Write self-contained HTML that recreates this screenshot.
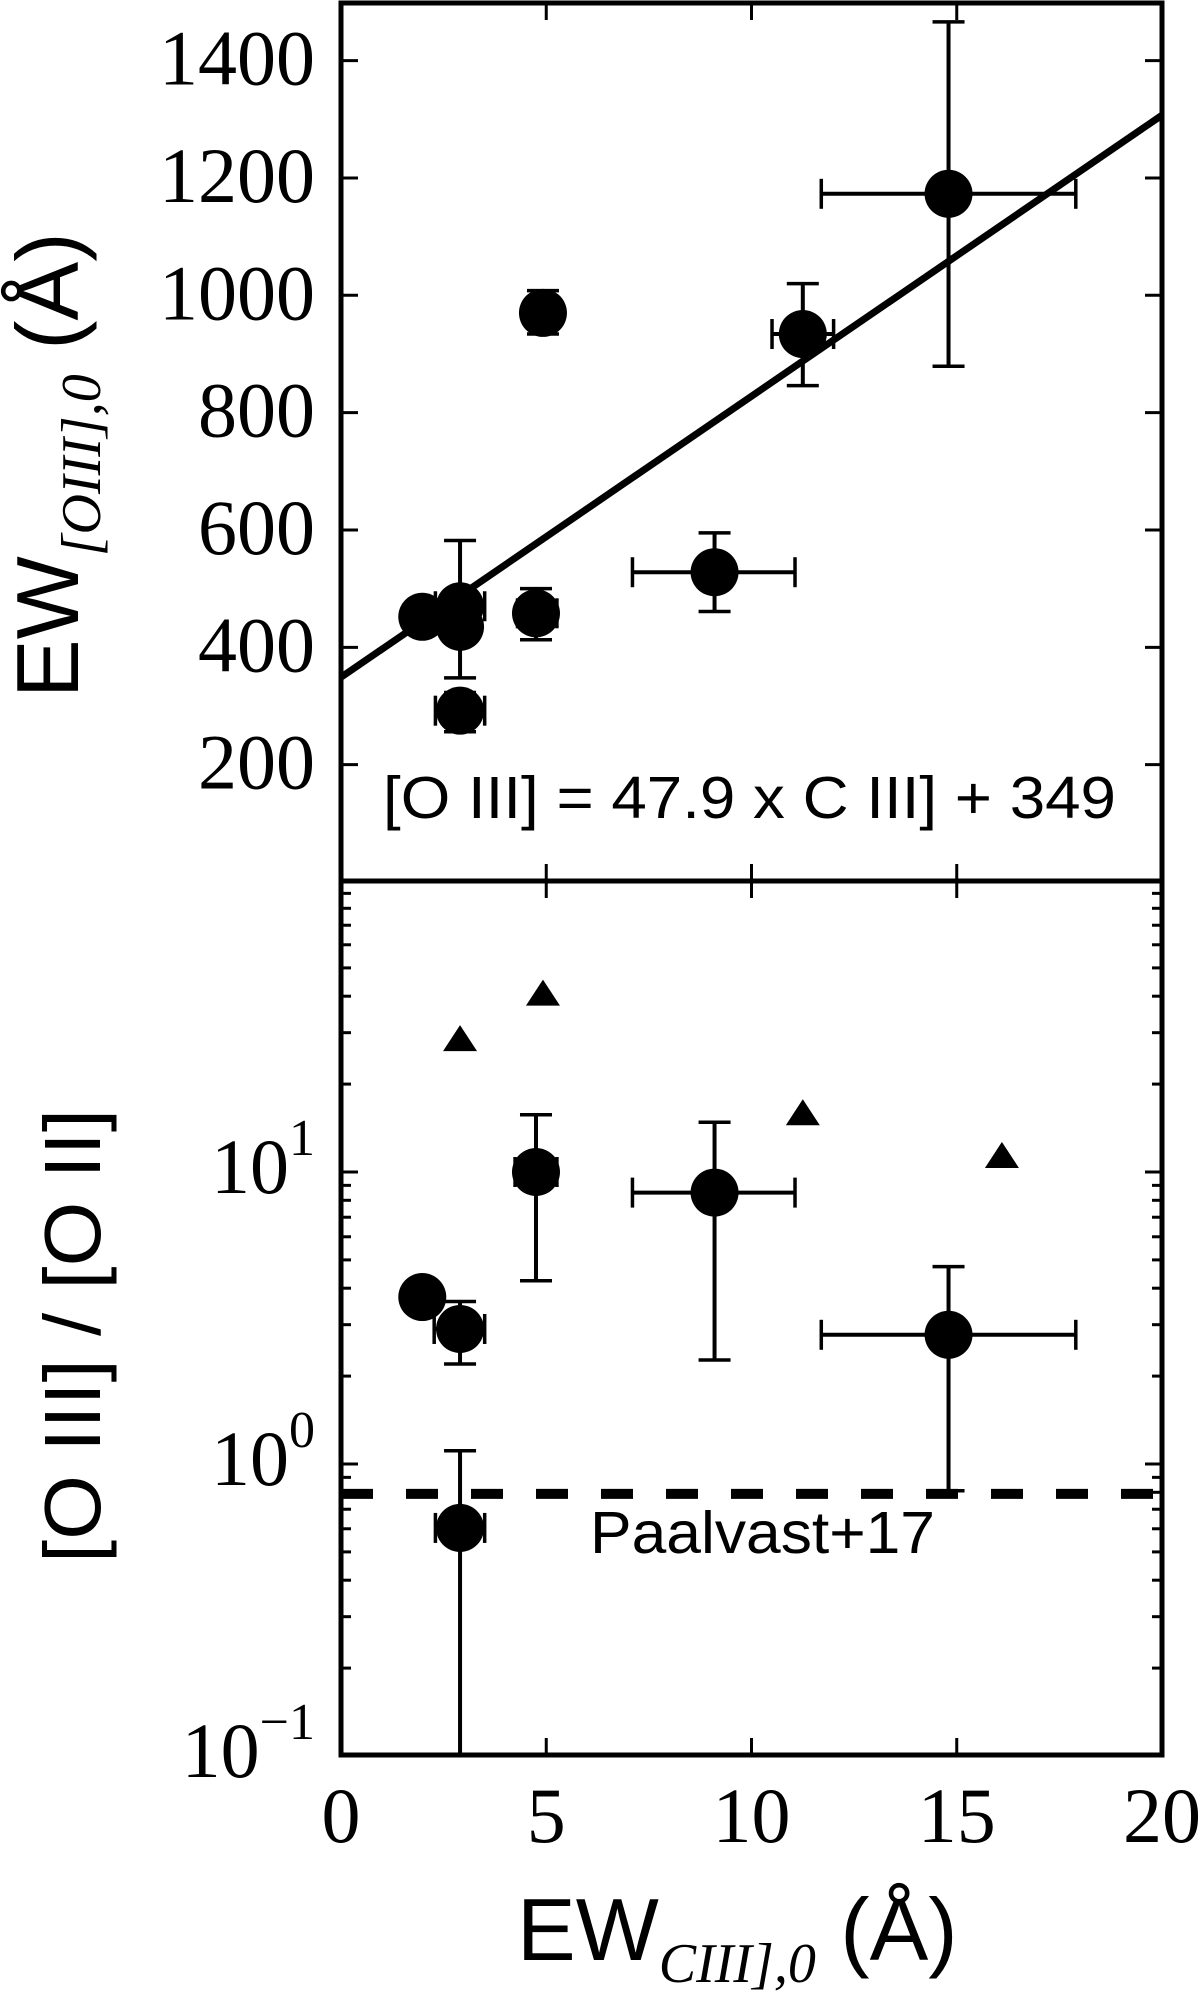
<!DOCTYPE html>
<html><head><meta charset="utf-8"><style>
html,body{margin:0;padding:0;background:#fff}
svg{display:block}
.tk{font-family:"Liberation Serif",serif;font-size:78px;fill:#000}
.sans{font-family:"Liberation Sans",sans-serif;fill:#000}
</style></head><body>
<svg id="chart" width="1200" height="1992" viewBox="0 0 1200 1992" xmlns="http://www.w3.org/2000/svg">
<g id="top"></g>
<g id="bot"></g>
<text class="sans" x="383" y="818" font-size="59" textLength="733" lengthAdjust="spacingAndGlyphs">[O III] = 47.9 x C III] + 349</text>
<text class="sans" x="590" y="1553" font-size="59" textLength="345" lengthAdjust="spacingAndGlyphs">Paalvast+17</text>
<text class="sans" x="517" y="1960" font-size="88">EW<tspan font-family="Liberation Serif" font-style="italic" font-size="56" dy="22">CIII],0</tspan><tspan dy="-22"> (Å)</tspan></text>
<text class="sans" transform="translate(78,698) rotate(-90)" font-size="88">EW<tspan font-family="Liberation Serif" font-style="italic" font-size="56" dy="22">[OIII],0</tspan><tspan dy="-22"> (Å)</tspan></text>
<text class="sans" transform="translate(100,1563) rotate(-90)" font-size="80" textLength="454" lengthAdjust="spacingAndGlyphs">[O III] / [O II]</text>
</svg>
<script>
const ns="http://www.w3.org/2000/svg";
// ---- data ----
const xTicks=[0,5,10,15,20];
const topYTicks=[200,400,600,800,1000,1200,1400];
const topX=[1.98,2.9,2.9,2.9,4.75,4.92,9.1,11.25,14.8];
const topY=[452,470,435,292,458,970,528,934,1173];
const topXLo=[null,2.3,null,2.3,4.3,null,7.1,10.5,11.7];
const topXHi=[null,3.5,null,3.5,5.26,null,11.06,12.0,17.9];
const topYLo=[null,348,null,256,413,934,461,846,879];
const topYHi=[null,582,null,323,500,1008,595,1020,1466];
const fitSlope=47.9, fitIntercept=349;
const botX=[1.98,2.9,4.75,9.1,14.8,2.9];
const botY=[3.73,2.9,10,8.5,2.77,0.604];
const botXLo=[null,2.27,4.24,7.1,11.7,2.3];
const botXHi=[null,3.5,5.26,11.06,17.9,3.5];
const botYLo=[null,2.2,4.24,2.27,0.81,0.05];
const botYHi=[null,3.6,15.7,14.8,4.74,1.11];
const triX=[2.9,4.92,11.25,16.1];
const triY=[28.5,40.8,15.9,11.35];
const paalvast=0.79;
const decades=[-1,0,1];
// ---- axes ----
const L=341,R=1162,T=3,M=881,B=1755;
const sx=v=>L+(v-0)*(R-L)/20;
const syT=v=>882-v*0.5867;
const syB=v=>1172-(Math.log10(v)-1)*292;
function el(p,tag,a){const e=document.createElementNS(ns,tag);for(const k in a)e.setAttribute(k,a[k]);p.appendChild(e);return e;}
const gTop=document.getElementById('top'), gBot=document.getElementById('bot');
let f=el(gTop,'rect',{x:L,y:T,width:R-L,height:M-T,fill:'none',stroke:'#000','stroke-width':5});


f=el(gBot,'rect',{x:L,y:M,width:R-L,height:B-M,fill:'none',stroke:'#000','stroke-width':5});


xTicks.forEach((v,i)=>{
  const x=sx(v);
  [[T,1],[M,-1],[M,1],[B,-1]].forEach(([y,d])=>{
    const t=el(gBot,'line',{x1:x,x2:x,y1:y,y2:y+d*17,stroke:'#000','stroke-width':3});
    
    
  });
  const lb=el(gBot,'text',{x:x,y:1842,'text-anchor':'middle',class:'tk'});
  lb.textContent=v;
  
  
});
topYTicks.forEach(v=>{
  const y=syT(v);
  el(gTop,'line',{x1:L,x2:L+17,y1:y,y2:y,stroke:'#000','stroke-width':3});
  el(gTop,'line',{x1:R,x2:R-17,y1:y,y2:y,stroke:'#000','stroke-width':3});
  const lb=el(gTop,'text',{x:315,y:y+24,'text-anchor':'end',class:'tk'});
  lb.textContent=v;
  
  
});
decades.forEach(d=>{
  for(let m=1;m<10;m++){
    const v=m*Math.pow(10,d), y=syB(v);
    if(y<M||y>B)continue;
    const len=m===1?17:10;
    el(gBot,'line',{x1:L,x2:L+len,y1:y,y2:y,stroke:'#000','stroke-width':3});
    el(gBot,'line',{x1:R,x2:R-len,y1:y,y2:y,stroke:'#000','stroke-width':3});
  }
  const y=syB(Math.pow(10,d));
  const lb=el(gBot,'text',{x:315,y:y+21,class:'tk','text-anchor':'end'});
  lb.textContent='10';
  const s=el(lb,'tspan',{'font-size':52,dy:-38});
  s.textContent=d<0?'\u2212'+Math.abs(d):String(d);
  
  
});
const fl=el(gTop,'line',{x1:sx(0),y1:syT(fitIntercept),x2:sx(20),y2:syT(fitSlope*20+fitIntercept),stroke:'#000','stroke-width':7});


const pl=el(gBot,'line',{x1:L,x2:R,y1:syB(paalvast),y2:syB(paalvast),stroke:'#000','stroke-width':10,'stroke-dasharray':'32 33'});


function errbars(g,X,Y,xl,xh,yl,yh,sy){
  X.forEach((xv,i)=>{
    const cx=sx(xv),cy=sy(Y[i]);
    if(xl[i]!=null){
      el(g,'line',{x1:sx(xl[i]),x2:sx(xh[i]),y1:cy,y2:cy,stroke:'#000','stroke-width':4});
      [xl[i],xh[i]].forEach(v=>el(g,'line',{x1:sx(v),x2:sx(v),y1:cy-15,y2:cy+15,stroke:'#000','stroke-width':3.5}));
    }
    if(yl[i]!=null){
      const y1=Math.min(sy(yl[i]),B), y2=sy(yh[i]);
      el(g,'line',{x1:cx,x2:cx,y1:y1,y2:y2,stroke:'#000','stroke-width':4});
      [y1,y2].forEach(y=>{if(y<B)el(g,'line',{x1:cx-16,x2:cx+16,y1:y,y2:y,stroke:'#000','stroke-width':3.5})});
    }
    const c=el(g,'circle',{cx:cx,cy:cy,r:24,fill:'#000'});
    
    
  });
}
errbars(gTop,topX,topY,topXLo,topXHi,topYLo,topYHi,syT);
errbars(gBot,botX,botY,botXLo,botXHi,botYLo,botYHi,syB);
triX.forEach((xv,i)=>{
  const cx=sx(xv),cy=syB(triY[i]);
  const t=el(gBot,'polygon',{points:`${cx-17},${cy+12} ${cx+17},${cy+12} ${cx},${cy-14}`,fill:'#000'});
  
  
});
</script>
</body></html>
